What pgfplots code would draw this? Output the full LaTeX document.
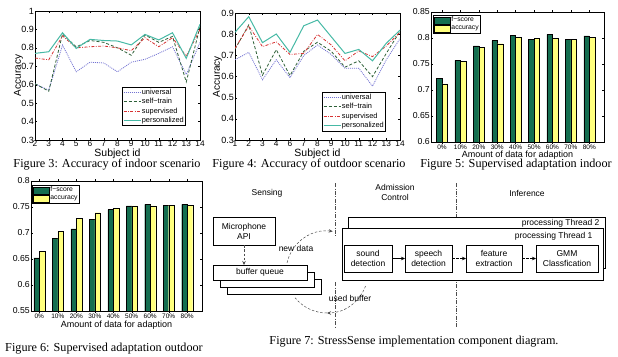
\documentclass[border=0pt]{standalone}
\usepackage{fontspec}
\setmainfont{Liberation Serif}
\newfontfamily\sans{Liberation Sans}
\usepackage{pgfplots}
\pgfplotsset{compat=1.18}
\usetikzlibrary{arrows.meta}

\definecolor{cuni}{RGB}{115,115,210}
\definecolor{cself}{RGB}{45,95,55}
\definecolor{csup}{RGB}{215,50,50}
\definecolor{cper}{RGB}{70,185,165}
\definecolor{cfs}{RGB}{20,110,80}
\definecolor{cacc}{RGB}{255,255,125}

\newcommand{\fs}[1]{\fontsize{#1}{#1}\selectfont}

\pgfplotsset{
  matl/.style={
    scale only axis, anchor=north west,
    tick align=inside, tick pos=both,
    major tick length=2pt,
    axis line style={line width=0.5pt},
    every tick/.style={black, line width=0.4pt},
    /pgf/number format/assume math mode=true,
    /pgf/number format/fixed,
    enlargelimits=false,
    yticklabel style={font=\sans\fs{9}, inner sep=1pt},
    xticklabel style={font=\sans\fs{8.3}, inner sep=1pt},
  },
  lineleg/.style={legend cell align=left,
    legend style={font=\sans\fs{7.4}, draw=black, inner sep=1pt, row sep=1.4pt,
      nodes={inner sep=0.6pt}}},
  uni/.style={cuni, line width=0.8pt, dash pattern=on 1pt off 1pt},
  self/.style={cself, line width=0.8pt, dash pattern=on 3pt off 2pt},
  sup/.style={csup, line width=0.8pt, dash pattern=on 3pt off 1.5pt on 0.8pt off 1.5pt},
  per/.style={cper, line width=1pt},
  barleg/.style={legend cell align=left,
    yticklabel style={font=\sans\fs{8.7}},
    legend style={font=\sans\fs{6.8}, draw=black, inner sep=1pt, row sep=0.5pt, nodes={inner sep=0.8pt}},
    every axis plot post/.append style={legend image code/.code={\draw[##1] (0pt,-3.5pt) rectangle (16pt,3.5pt);}}},
}

\begin{document}
\begin{tikzpicture}
\useasboundingbox (0pt,0pt) rectangle (618pt,-356pt);

% ---------------- Figure 3 ----------------
\begin{axis}[matl, lineleg, at={(35pt,-11pt)}, width=165pt, height=129pt,
  xmin=2, xmax=14, ymin=0.3, ymax=1,
  xtick={2,3,...,14}, ytick={0.3,0.4,0.5,0.6,0.7,0.8,0.9,1},
  xlabel={Subject id}, ylabel={Accuracy},
  xlabel style={font=\sans\fs{10.5}, at={(axis description cs:0.5,-0.108)}, anchor=center},
  ylabel style={font=\sans\fs{10}, at={(axis description cs:-0.1,0.5)}, anchor=center},
  legend style={at={(axis description cs:0.527,0.411)}, anchor=north west},
]
\addplot[uni] coordinates {(2,0.605)(3,0.570)(4,0.815)(5,0.670)(6,0.722)(7,0.718)(8,0.670)(9,0.722)(10,0.738)(11,0.770)(12,0.806)(13,0.655)(14,0.830)};
\addplot[self] coordinates {(2,0.605)(3,0.565)(4,0.875)(5,0.805)(6,0.840)(7,0.830)(8,0.800)(9,0.760)(10,0.870)(11,0.830)(12,0.862)(13,0.615)(14,0.915)};
\addplot[sup] coordinates {(2,0.745)(3,0.735)(4,0.865)(5,0.800)(6,0.806)(7,0.810)(8,0.800)(9,0.785)(10,0.855)(11,0.806)(12,0.855)(13,0.755)(14,0.900)};
\addplot[per] coordinates {(2,0.770)(3,0.779)(4,0.882)(5,0.797)(6,0.846)(7,0.840)(8,0.837)(9,0.816)(10,0.873)(11,0.843)(12,0.882)(13,0.743)(14,0.928)};
\legend{universal, self−train, supervised, personalized}
\end{axis}

% ---------------- Figure 4 ----------------
\begin{axis}[matl, lineleg, at={(235pt,-13.3pt)}, width=165pt, height=126.7pt,
  xmin=0, xmax=12, ymin=0.3, ymax=0.9,
  xtick={0,1,...,12}, xticklabels={1,2,3,4,6,7,8,9,10,11,12,13,14},
  ytick={0.3,0.4,0.5,0.6,0.7,0.8,0.9},
  xlabel={Subject id}, ylabel={Accuracy},
  xlabel style={font=\sans\fs{10.5}, at={(axis description cs:0.5,-0.11)}, anchor=center},
  ylabel style={font=\sans\fs{10}, at={(axis description cs:-0.106,0.5)}, anchor=center},
  legend style={at={(axis description cs:0.527,0.378)}, anchor=north west},
]
\addplot[uni] coordinates {(0,0.680)(1,0.715)(2,0.585)(3,0.680)(4,0.595)(5,0.700)(6,0.750)(7,0.705)(8,0.640)(9,0.640)(10,0.555)(11,0.680)(12,0.780)};
\addplot[self] coordinates {(0,0.730)(1,0.845)(2,0.607)(3,0.728)(4,0.605)(5,0.720)(6,0.763)(7,0.720)(8,0.645)(9,0.675)(10,0.600)(11,0.710)(12,0.815)};
\addplot[sup] coordinates {(0,0.734)(1,0.840)(2,0.742)(3,0.765)(4,0.705)(5,0.710)(6,0.800)(7,0.750)(8,0.675)(9,0.722)(10,0.695)(11,0.745)(12,0.810)};
\addplot[per] coordinates {(0,0.810)(1,0.884)(2,0.761)(3,0.802)(4,0.715)(5,0.841)(6,0.868)(7,0.789)(8,0.710)(9,0.729)(10,0.675)(11,0.758)(12,0.820)};
\legend{universal, self−train, supervised, personalized}
\end{axis}

% ---------------- Figure 5 ----------------
\begin{axis}[matl, barleg, at={(431pt,-12pt)}, width=173pt, height=130pt,
  ybar=0pt, bar width=5.5pt,
  xmin=-0.6, xmax=8.8, ymin=0.6, ymax=0.85,
  xtick={0,1,...,8}, xticklabels={0\%,10\%,20\%,30\%,40\%,50\%,60\%,70\%,80\%},
  xticklabel style={font=\sans\fs{6.5}},
  ytick={0.6,0.65,0.7,0.75,0.8,0.85},
  xlabel={Amount of data for adaption},
  xlabel style={font=\sans\fs{9}, at={(axis description cs:0.5,-0.1)}, anchor=center},
  legend style={at={(axis description cs:0.012,0.977)}, anchor=north west},
]
\addplot[fill=cfs, draw=black, line width=0.4pt] coordinates {(0,0.722)(1,0.757)(2,0.785)(3,0.795)(4,0.805)(5,0.797)(6,0.807)(7,0.798)(8,0.804)};
\addplot[fill=cacc, draw=black, line width=0.4pt] coordinates {(0,0.712)(1,0.755)(2,0.782)(3,0.789)(4,0.801)(5,0.800)(6,0.800)(7,0.797)(8,0.801)};
\legend{f−score, accuracy}
\end{axis}

% ---------------- Figure 6 ----------------
\begin{axis}[matl, barleg, at={(31pt,-181pt)}, width=171pt, height=130pt,
  ybar=0pt, bar width=5.5pt,
  xmin=-0.45, xmax=8.8, ymin=0.55, ymax=0.8,
  xtick={0,1,...,8}, xticklabels={0\%,10\%,20\%,30\%,40\%,50\%,60\%,70\%,80\%},
  xticklabel style={font=\sans\fs{6.5}},
  ytick={0.55,0.6,0.65,0.7,0.75,0.8},
  xlabel={Amount of data for adaption},
  xlabel style={font=\sans\fs{9}, at={(axis description cs:0.5,-0.108)}, anchor=center},
  legend style={at={(axis description cs:0.006,0.969)}, anchor=north west},
]
\addplot[fill=cfs, draw=black, line width=0.4pt] coordinates {(0,0.652)(1,0.690)(2,0.708)(3,0.726)(4,0.745)(5,0.752)(6,0.755)(7,0.753)(8,0.755)};
\addplot[fill=cacc, draw=black, line width=0.4pt] coordinates {(0,0.665)(1,0.703)(2,0.728)(3,0.739)(4,0.748)(5,0.752)(6,0.752)(7,0.753)(8,0.753)};
\legend{f−score, accuracy}
\end{axis}

% ---------------- Captions ----------------
\node[font=\fs{12.2}] at (107pt,-164.5pt) {Figure 3: Accuracy of indoor scenario};
\node[font=\fs{12.2}] at (309pt,-164.5pt) {Figure 4: Accuracy of outdoor scenario};
\node[font=\fs{12.2}] at (516pt,-164.5pt) {Figure 5: Supervised adaptation indoor};
\node[font=\fs{12.2}] at (104pt,-349pt) {Figure 6: Supervised adaptation outdoor};
\node[font=\fs{12.2}] at (414pt,-342pt) {Figure 7: StressSense implementation component diagram.};

% ---------------- Figure 7 diagram ----------------
\begin{scope}[x=1pt, y=-1pt, font=\sans\fontsize{8.5}{10}\selectfont, line width=0.5pt]
  \tikzset{sep/.style={black!70, line width=0.4pt, dash pattern=on 4pt off 1.5pt on 0.8pt off 1.5pt},
           arc/.style={black!70, line width=0.5pt, dash pattern=on 2.5pt off 1.8pt},
           tip/.style={-{Stealth[length=4pt,width=3.5pt]}}}
  \draw[sep] (335,183) -- (335,236);
  \draw[sep] (335,282) -- (335,327);
  \draw[sep] (456,183) -- (456,327);
  \node at (267,193) {Sensing};
  \node[align=center] at (395,192) {Admission\\Control};
  \node at (527,193) {Inference};
  % microphone
  \draw[fill=white] (213,217) rectangle (275,245);
  \node[align=center] at (244,231) {Microphone\\API};
  \draw[arc, tip] (244,245) -- (244,265);
  % buffer queue
  \draw[fill=white] (227,279) rectangle (321,294);
  \draw[fill=white] (220,272) rectangle (314,287);
  \draw[fill=white] (213,265) rectangle (307,280);
  \node at (260,272.5) {buffer queue};
  % arcs
  \draw[arc, tip] (327,272) ++(193:41) arc[start angle=193, end angle=278, radius=41];
  \draw[arc, tip] (327,272) ++(20:41) arc[start angle=20, end angle=90, radius=41];
  \draw[arc] (327,272) ++(90:41) arc[start angle=90, end angle=141, radius=41];
  \node at (296,248) {new data};
  \node at (350,298) {used buffer};
  % threads
  \draw[fill=white] (348,217) rectangle (605,268);
  \node[anchor=east] at (603,223) {processing Thread 2};
  \draw[fill=white] (342,228) rectangle (603,280);
  \node[anchor=east] at (596,236) {processing Thread 1};
  % inner boxes
  \draw (344,245) rectangle (392,272);
  \node[align=center] at (368,258.5) {sound\\detection};
  \draw (405,245) rectangle (452,272);
  \node[align=center] at (428.5,258.5) {speech\\detection};
  \draw (466,245) rectangle (522,272);
  \node[align=center] at (494,258.5) {feature\\extraction};
  \draw (536,245) rectangle (598,272);
  \node[align=center] at (567,258.5) {GMM\\Classfication};
  \draw[tip] (392,258.5) -- (405,258.5);
  \draw[tip, dash pattern=on 2.5pt off 1.5pt] (452,258.5) -- (466,258.5);
  \draw[tip, dash pattern=on 2.5pt off 1.5pt] (522,258.5) -- (536,258.5);
\end{scope}
\end{tikzpicture}
\end{document}
